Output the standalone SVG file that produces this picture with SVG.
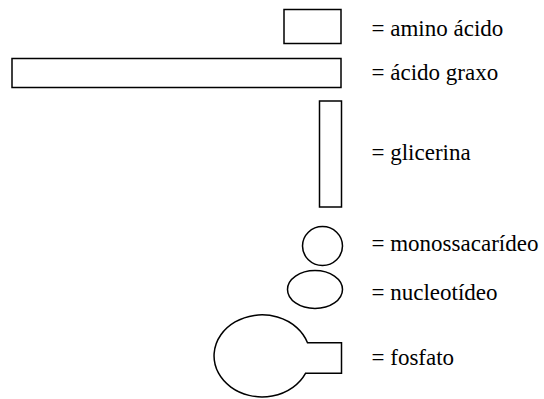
<svg xmlns="http://www.w3.org/2000/svg" width="544" height="399" viewBox="0 0 544 399">
<style>
.s{fill:#fff;stroke:#000;stroke-width:1.5}
.t{font-family:'Liberation Serif','Times New Roman',Tinos,'DejaVu Serif',serif;font-size:23px;fill:#000}
</style>
<rect width="544" height="399" fill="#fff"/>
<g id="amino-acido">
<rect class="s" x="284" y="9.5" width="57" height="34"/>
<text class="t" x="371.5" y="36">= amino ácido</text>
</g>
<g id="acido-graxo">
<rect class="s" x="12" y="58.5" width="329" height="29"/>
<text class="t" x="371.5" y="79.5">= ácido graxo</text>
</g>
<g id="glicerina">
<rect class="s" x="319.5" y="101" width="22" height="106"/>
<text class="t" x="371.5" y="159.5">= glicerina</text>
</g>
<g id="monossacarideo">
<ellipse class="s" cx="322.5" cy="246" rx="20" ry="19.5"/>
<text class="t" x="371.5" y="251">= monossacarídeo</text>
</g>
<g id="nucleotideo">
<ellipse class="s" cx="315" cy="289.5" rx="27.5" ry="19"/>
<text class="t" x="371.5" y="300">= nucleotídeo</text>
</g>
<g id="fosfato">
<path class="s" d="M307.5 342.7 H341.5 V373.3 H305.5 A48 41 0 1 1 307.5 342.7 Z"/>
<text class="t" x="371.5" y="365">= fosfato</text>
</g>
<g id="connectors"></g>
</svg>
